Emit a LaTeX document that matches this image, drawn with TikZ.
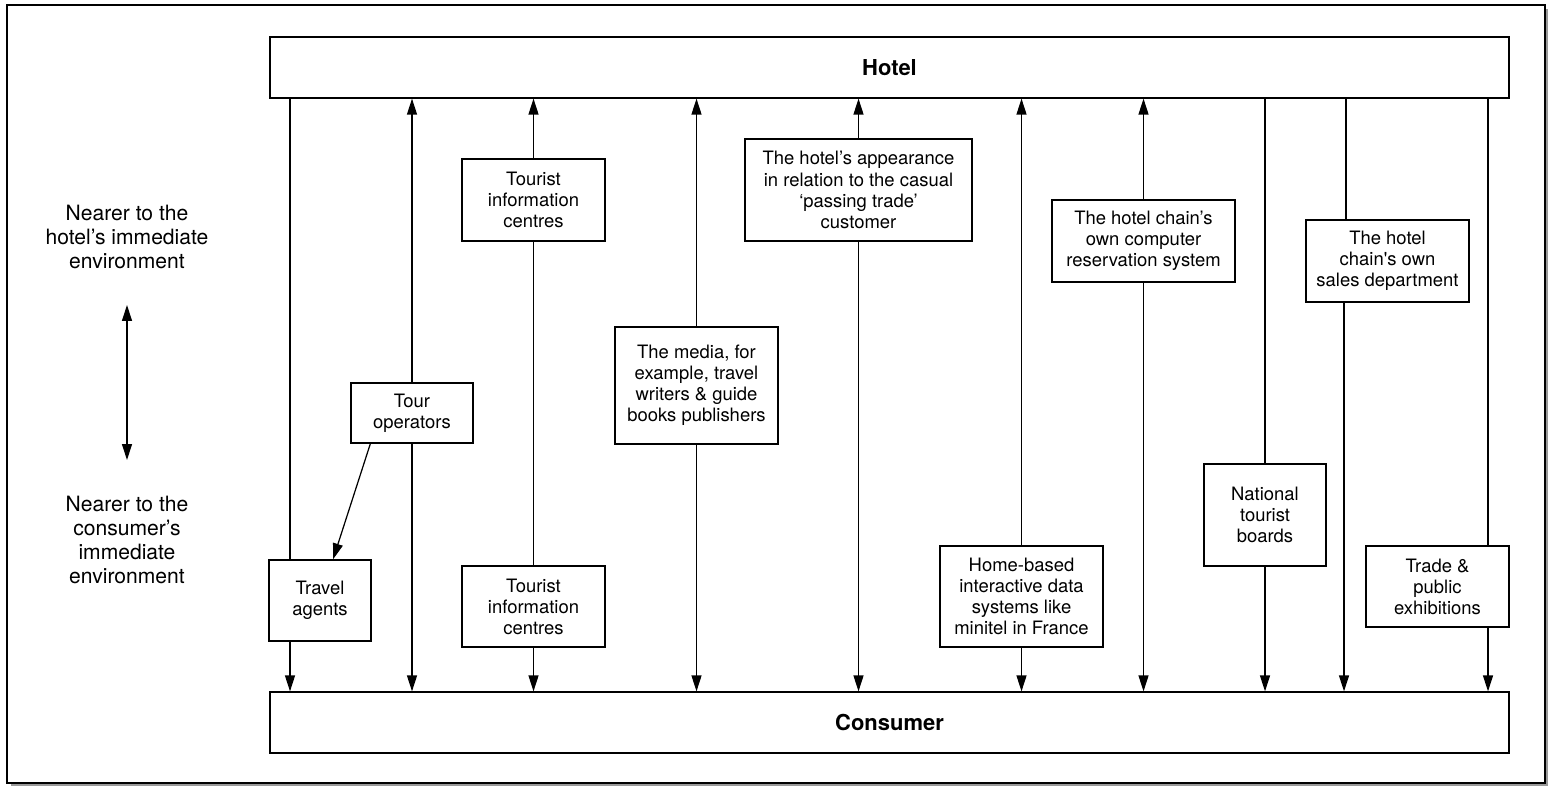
\documentclass[tikz,border=0pt]{standalone}
\usepackage{fontspec}
\setmainfont{TeX Gyre Heros}
\usetikzlibrary{arrows.meta}

\begin{document}
\begin{tikzpicture}[x=0.02cm, y=-0.02cm, line width=0.7pt,
	every node/.style={font=\fontsize{10.5}{12}\selectfont, align=center, inner sep=0pt},
	box/.style 2 args={draw, minimum width=#1*0.02cm, minimum height=#2*0.02cm},
	bar/.style={draw, minimum width=1239*0.02cm, minimum height=61*0.02cm, font=\fontsize{12.5}{14}\selectfont\bfseries},
	side/.style={font=\fontsize{12}{13.6}\selectfont},
	arr/.style={-{Triangle[length=3.2mm, width=2mm]}},
	dbl/.style={{Triangle[length=3.2mm, width=2mm]}-{Triangle[length=3.2mm, width=2mm]}}]
	\useasboundingbox (0,0) rectangle (1551,787);
	
	% Frame with shadow
	\draw[gray!80, line width=1.4pt] (1547,9) -- (1547,785) -- (11,785);
	\draw (7,5) rectangle (1545,783);
	
	% Hotel and consumer
	\node[bar] (hotel) at (889.5,67.5) {Hotel};
	\node[bar] (cons) at (889.5,722.5) {Consumer};
	
	% Left side scale
	\node[side] (nearh) at (127,237) {Nearer to the\\hotel's immediate\\environment};
	\node[side] (nearc) at (127,540) {Nearer to the\\consumer's\\immediate\\environment};
	\coordinate (scaleup) at (127,305);
	\coordinate (scaledn) at (127,460);
	\draw[dbl] (scaleup) -- (scaledn);
	
	% Channels
	\node[box={102}{81}] (ta) at (320,600.5) {Travel\\agents};
	\node[box={122}{60}] (tour) at (412,413) {Tour\\operators};
	\node[box={143}{82}] (tit) at (533.5,200) {Tourist\\information\\centres};
	\node[box={143}{81}] (tib) at (533.5,606.5) {Tourist\\information\\centres};
	\node[box={163}{117}] (media) at (696.5,385.5) {The media, for\\example, travel\\writers \& guide\\books publishers};
	\node[box={227}{102}] (app) at (858.5,190) {The hotel's appearance\\in relation to the casual\\`passing trade'\\customer};
	\node[box={163}{101}] (home) at (1021.5,596.5) {Home-based\\interactive data\\systems like\\minitel in France};
	\node[box={183}{82}] (crs) at (1143.5,241) {The hotel chain's\\own computer\\reservation system};
	\node[box={122}{102}] (nat) at (1265,515) {National\\tourist\\boards};
	\node[box={163}{82}] (sales) at (1387.5,261) {The hotel\\chain\textquotesingle s own\\sales department};
	\node[box={143}{81}] (trade) at (1437.5,586.5) {Trade \&\\public\\exhibitions};
	
	% Off-centre columns
	\coordinate (col1) at (290,0);
	\coordinate (col9a) at (1346,0);
	\coordinate (col9b) at (1344,0);
	\coordinate (col10) at (1488,0);
	
	% Travel agents
	\draw (hotel.south -| col1) -- (ta.north -| col1);
	\draw[arr] (ta.south -| col1) -- (cons.north -| col1);
	% Tour operators
	\draw[arr] (tour.north) -- (hotel.south -| tour.north);
	\draw[arr] (tour.south) -- (cons.north -| tour.south);
	\draw[arr] ([xshift=0.4cm]tour.south west) -- ([xshift=0.26cm]ta.north);
	% Tourist information centres
	\draw[arr] (tit.north) -- (hotel.south -| tit.north);
	\draw (tit.south) -- (tib.north);
	\draw[arr] (tib.south) -- (cons.north -| tib.south);
	% Media, appearance, home-based, reservation system
	\foreach \n in {media, app, home, crs}{
		\draw[arr] (\n.north) -- (hotel.south -| \n.north);
		\draw[arr] (\n.south) -- (cons.north -| \n.south);
	}
	% National tourist boards
	\draw (hotel.south -| nat.north) -- (nat.north);
	\draw[arr] (nat.south) -- (cons.north -| nat.south);
	% Sales department
	\draw (hotel.south -| col9a) -- (sales.north -| col9a);
	\draw[arr] (sales.south -| col9b) -- (cons.north -| col9b);
	% Exhibitions
	\draw (hotel.south -| col10) -- (trade.north -| col10);
	\draw[arr] (trade.south -| col10) -- (cons.north -| col10);
\end{tikzpicture}
\end{document}
